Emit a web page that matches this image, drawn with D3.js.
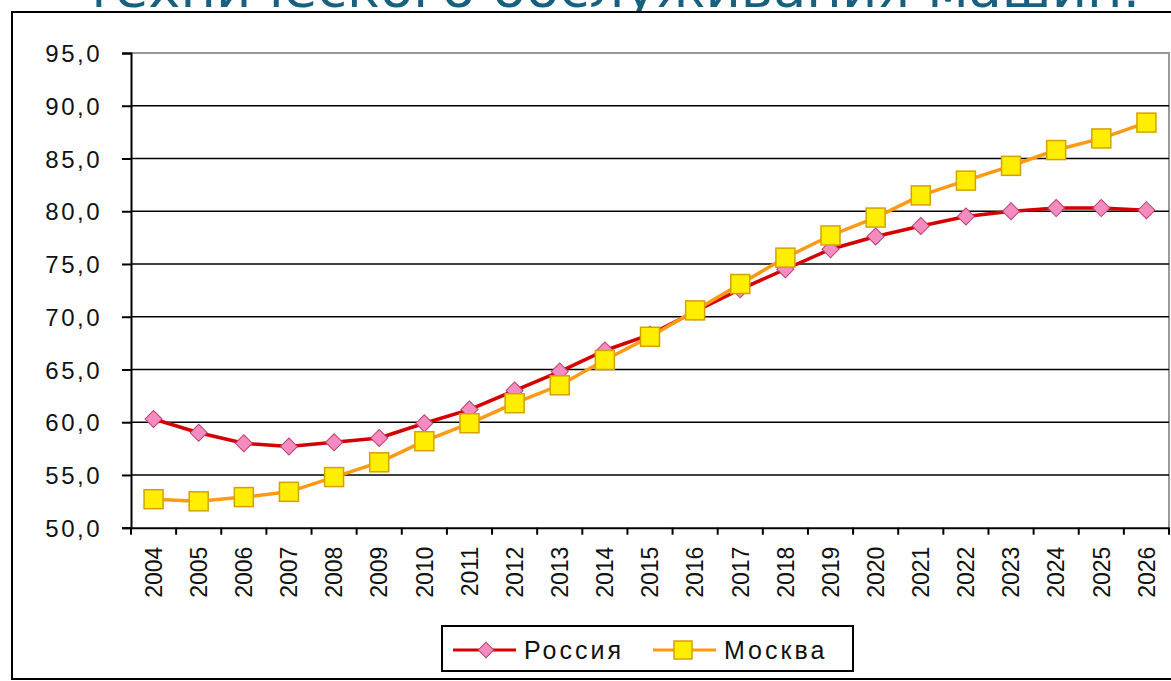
<!DOCTYPE html>
<html lang="ru">

<head>
    <meta charset="UTF-8">
    <title>Россия и Москва</title>
    <style>
        body {
            margin: 0;
            background: #fff;
            overflow: hidden;
        }

        svg {
            display: block;
            font-family: Arial, "Liberation Sans", sans-serif;
        }

        .ylab text {
            font-size: 24px;
            letter-spacing: 2.5px;
            fill: #111;
        }

        .xlab text {
            font-size: 23px;
            fill: #111;
        }

        .legend text {
            font-size: 25px;
            letter-spacing: 3px;
            fill: #111;
        }
    </style>
</head>

<body>
    <svg width="1171" height="681"></svg>

    <script src="https://d3js.org/d3.v7.min.js"></script>
    <script>
        const years = ["2004", "2005", "2006", "2007", "2008", "2009", "2010", "2011", "2012", "2013", "2014", "2015",
            "2016", "2017", "2018", "2019", "2020", "2021", "2022", "2023", "2024", "2025", "2026"];
        const russia = [60.3, 59.0, 58.0, 57.7, 58.1, 58.5, 59.9, 61.2, 63.0, 64.8, 66.8, 68.3,
            70.5, 72.6, 74.5, 76.4, 77.6, 78.6, 79.5, 80.0, 80.3, 80.3, 80.1];
        const moscow = [52.7, 52.5, 52.9, 53.4, 54.8, 56.2, 58.2, 59.9, 61.8, 63.5, 65.9, 68.1,
            70.6, 73.1, 75.6, 77.7, 79.4, 81.5, 82.9, 84.3, 85.8, 86.9, 88.4];
        const yTicks = [50, 55, 60, 65, 70, 75, 80, 85, 90, 95];
        const seriesNames = ["Россия", "Москва"];
        const titleText = "технического обслуживания машин.";

        const svg = d3.select("svg");

        // title, cut off at the top of the slide
        svg.append("text")
            .attr("x", 83)
            .attr("y", 7)
            .attr("textLength", 1057)
            .attr("lengthAdjust", "spacingAndGlyphs")
            .style("font-family", "'DejaVu Sans', sans-serif")
            .style("font-size", "52px")
            .attr("fill", "#17617f")
            .text(titleText);

        // outer chart frame
        svg.append("rect")
            .attr("x", 12)
            .attr("y", 12)
            .attr("width", 1175)
            .attr("height", 667)
            .attr("fill", "#fff")
            .attr("stroke", "#000")
            .attr("stroke-width", 2);

        const plotL = 131, plotR = 1169, plotT = 53, plotB = 527.7;

        const x = d3.scaleBand().domain(years).range([plotL, plotR]).padding(0);
        const y = d3.scaleLinear().domain([50, 95]).range([plotB, plotT]);
        const fmt = v => d3.format(".1f")(v).replace(".", ",");

        // plot border (top/right grey)
        svg.append("path")
            .attr("d", `M${plotL},${plotT}H${plotR}V${plotB}`)
            .attr("fill", "none")
            .attr("stroke", "#999")
            .attr("stroke-width", 2);

        // gridlines
        svg.append("g")
            .selectAll("line")
            .data(yTicks.filter(d => d > 50 && d < 95))
            .enter().append("line")
            .attr("x1", plotL)
            .attr("x2", plotR)
            .attr("y1", d => y(d))
            .attr("y2", d => y(d))
            .attr("stroke", "#000")
            .attr("stroke-width", 1.5);

        // y axis
        const yAxis = svg.append("g")
            .attr("class", "ylab")
            .attr("transform", `translate(${plotL},0)`)
            .call(d3.axisLeft(y).tickValues(yTicks).tickFormat(fmt).tickSize(9).tickPadding(20));
        yAxis.select(".domain").attr("stroke", "#000").attr("stroke-width", 2);
        yAxis.selectAll(".tick line").attr("stroke", "#000").attr("stroke-width", 2);
        yAxis.selectAll(".tick text").attr("dy", "0.36em");

        // x axis
        const xAxis = svg.append("g")
            .attr("class", "xlab")
            .attr("transform", `translate(0,${plotB})`)
            .call(d3.axisBottom(x).tickSize(0));
        xAxis.select(".domain").attr("stroke", "#000").attr("stroke-width", 2);
        xAxis.selectAll(".tick text")
            .attr("transform", "rotate(-90)")
            .attr("x", -19)
            .attr("y", 0)
            .attr("dy", "0.36em")
            .style("text-anchor", "end");

        // category tick marks between years
        xAxis.selectAll(".sep")
            .data(years.concat(["end"]))
            .enter().append("line")
            .attr("class", "sep")
            .attr("x1", d => d === "end" ? plotR : x(d))
            .attr("x2", d => d === "end" ? plotR : x(d))
            .attr("y1", 0)
            .attr("y2", 7)
            .attr("stroke", "#000")
            .attr("stroke-width", 2);

        const cx = d => x(d) + x.bandwidth() / 2;

        const line = d3.line()
            .x(d => cx(d.year))
            .y(d => y(d.value));

        const rusData = years.map((yr, i) => ({ year: yr, value: russia[i] }));
        const mosData = years.map((yr, i) => ({ year: yr, value: moscow[i] }));

        const diamond = d3.symbol().type(d3.symbolSquare).size(145);

        // Россия
        svg.append("path")
            .datum(rusData)
            .attr("fill", "none")
            .attr("stroke", "#d40000")
            .attr("stroke-width", 3.5)
            .attr("d", line);
        svg.selectAll(".rus")
            .data(rusData)
            .enter().append("path")
            .attr("class", "rus")
            .attr("d", diamond)
            .attr("transform", d => `translate(${cx(d.year)},${y(d.value)}) rotate(45)`)
            .attr("fill", "#f58cc0")
            .attr("stroke", "#c0406e")
            .attr("stroke-width", 1);

        // Москва
        svg.append("path")
            .datum(mosData)
            .attr("fill", "none")
            .attr("stroke", "#ff9a12")
            .attr("stroke-width", 3.5)
            .attr("d", line);
        svg.selectAll(".mos")
            .data(mosData)
            .enter().append("rect")
            .attr("class", "mos")
            .attr("x", d => cx(d.year) - 9.5)
            .attr("y", d => y(d.value) - 9.5)
            .attr("width", 19)
            .attr("height", 19)
            .attr("fill", "#ffee00")
            .attr("stroke", "#d7a000")
            .attr("stroke-width", 1.5);

        // legend
        const legend = svg.append("g").attr("class", "legend");
        legend.append("rect")
            .attr("x", 442)
            .attr("y", 626)
            .attr("width", 411)
            .attr("height", 45)
            .attr("fill", "#fff")
            .attr("stroke", "#000")
            .attr("stroke-width", 2);

        const legItems = [
            { name: seriesNames[0], x0: 453, color: "#d40000", type: "diamond" },
            { name: seriesNames[1], x0: 653, color: "#ff9a12", type: "square" }
        ];
        const ly = 650;
        legItems.forEach(it => {
            legend.append("line")
                .attr("x1", it.x0)
                .attr("x2", it.x0 + 63)
                .attr("y1", ly)
                .attr("y2", ly)
                .attr("stroke", it.color)
                .attr("stroke-width", 3);
            if (it.type === "diamond") {
                legend.append("path")
                    .attr("d", d3.symbol().type(d3.symbolSquare).size(120))
                    .attr("transform", `translate(${it.x0 + 33},${ly}) rotate(45)`)
                    .attr("fill", "#f58cc0")
                    .attr("stroke", "#c0406e");
            } else {
                legend.append("rect")
                    .attr("x", it.x0 + 30 - 9)
                    .attr("y", ly - 9)
                    .attr("width", 18)
                    .attr("height", 18)
                    .attr("fill", "#ffee00")
                    .attr("stroke", "#d7a000")
                    .attr("stroke-width", 1.5);
            }
            legend.append("text")
                .attr("x", it.x0 + 71)
                .attr("y", ly)
                .attr("dy", "0.36em")
                .text(it.name);
        });
    </script>
</body>

</html>
